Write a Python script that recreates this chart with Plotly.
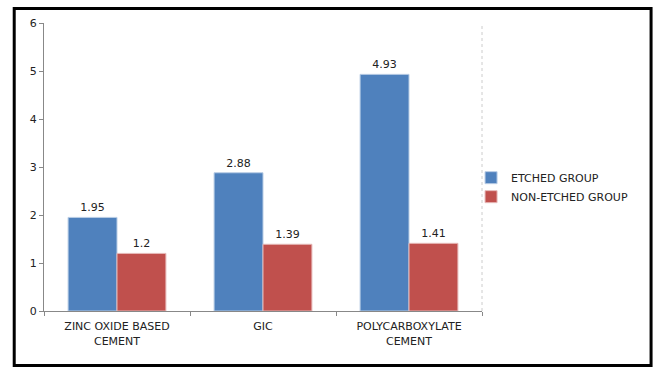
import plotly.graph_objects as go

categories = ["ZINC OXIDE BASED<br>CEMENT", "GIC", "POLYCARBOXYLATE<br>CEMENT"]
etched = [1.95, 2.88, 4.93]
non_etched = [1.2, 1.39, 1.41]
y_ticks = [0, 1, 2, 3, 4, 5, 6]

BLUE = "#4F81BD"
RED = "#C0504D"
FONT = "DejaVu Sans"

fig = go.Figure()
fig.add_trace(go.Bar(
    name="ETCHED GROUP", x=categories, y=etched,
    marker=dict(color=BLUE, line=dict(color="#B9CDE5", width=1)),
    text=[f"{v:g}" for v in etched], textposition="outside",
    textfont=dict(family=FONT, size=11, color="#222"), cliponaxis=False,
))
fig.add_trace(go.Bar(
    name="NON-ETCHED GROUP", x=categories, y=non_etched,
    marker=dict(color=RED, line=dict(color="#E6B9B8", width=1)),
    text=[f"{v:g}" for v in non_etched], textposition="outside",
    textfont=dict(family=FONT, size=11, color="#222"), cliponaxis=False,
))

fig.update_layout(
    width=659, height=370,
    margin=dict(l=44, r=177, t=23, b=59),
    paper_bgcolor="white", plot_bgcolor="white",
    barmode="group", bargap=0.33, bargroupgap=0,
    font=dict(family=FONT, size=10, color="#222"),
    showlegend=True,
    legend=dict(x=0.975, y=0.43, xanchor="left", yanchor="middle",
                font=dict(family=FONT, size=11, color="#222"),
                itemwidth=30, tracegroupgap=0, bgcolor="rgba(0,0,0,0)"),
    xaxis=dict(showline=True, linecolor="#888", linewidth=1,
               ticks="outside", tickson="boundaries", ticklen=4, tickcolor="#888",
               ticklabelstandoff=5,
               showgrid=False, tickfont=dict(family=FONT, size=11, color="#222")),
    yaxis=dict(range=[0, 6], tickvals=y_ticks, showline=True, linecolor="#888", linewidth=1,
               ticks="outside", ticklen=4, tickcolor="#888", showgrid=False, zeroline=False,
               tickfont=dict(family=FONT, size=11, color="#222")),
    shapes=[
        # dotted right edge of plotting area
        dict(type="line", xref="paper", yref="paper", x0=1, x1=1, y0=0, y1=1,
             line=dict(color="#CCCCCC", width=1, dash="dot")),
        # outer frame
        dict(type="rect", xref="paper", yref="paper",
             x0=-0.068, x1=1.386, y0=-0.189, y1=1.05,
             line=dict(color="black", width=3)),
    ],
)

fig.write_html("out.html")
